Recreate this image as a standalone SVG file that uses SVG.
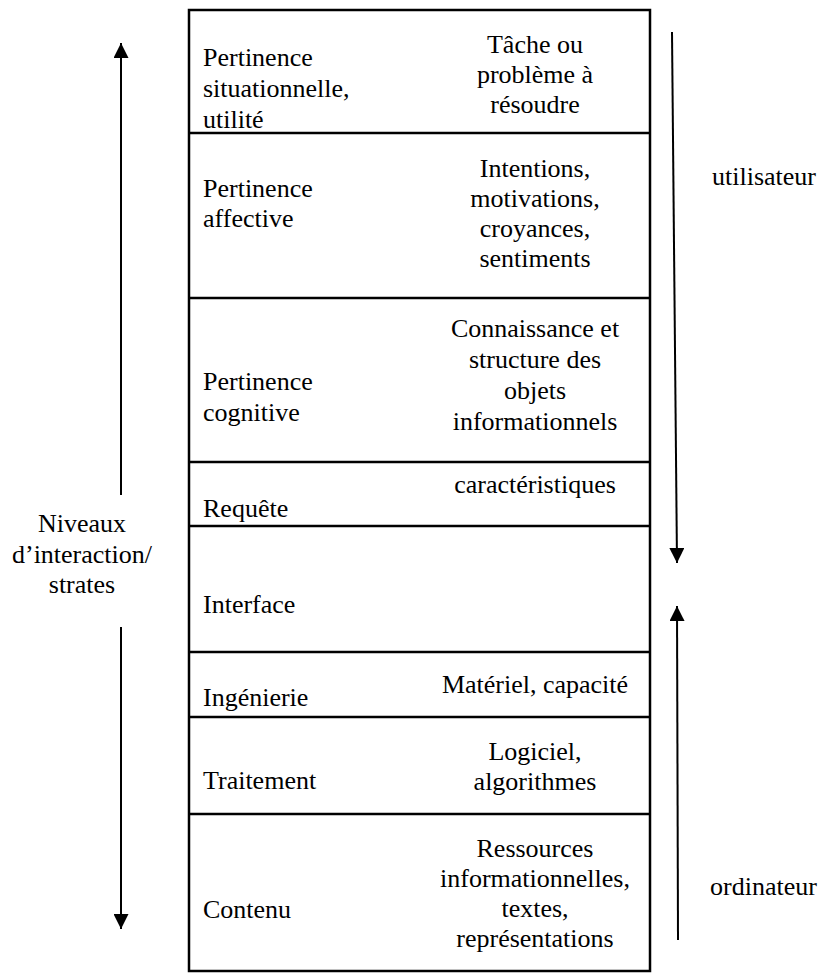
<svg xmlns="http://www.w3.org/2000/svg" width="823" height="974" viewBox="0 0 823 974">
<style>
text{font-family:'Liberation Serif','Times New Roman','DejaVu Serif',serif;font-size:26px;fill:#000}
.c{text-anchor:middle}
.grid{stroke:#000;stroke-width:2.5;fill:none}
.arr{stroke:#000;stroke-width:2;fill:none}
</style>
<defs>
<marker id="ah" viewBox="0 0 10 10" refX="10" refY="5" markerWidth="15" markerHeight="15" markerUnits="userSpaceOnUse" orient="auto">
<path d="M0,0 L10,5 L0,10 Z" fill="#000"/>
</marker>
</defs>
<rect width="823" height="974" fill="#fff"/>
<g id="table">
<rect class="grid" x="189" y="10" width="461" height="961"/>
<line class="grid" x1="189" y1="133" x2="650" y2="133"/>
<line class="grid" x1="189" y1="298" x2="650" y2="298"/>
<line class="grid" x1="189" y1="462" x2="650" y2="462"/>
<line class="grid" x1="189" y1="526" x2="650" y2="526"/>
<line class="grid" x1="189" y1="652" x2="650" y2="652"/>
<line class="grid" x1="189" y1="717" x2="650" y2="717"/>
<line class="grid" x1="189" y1="814" x2="650" y2="814"/>
</g>
<g font-family="Liberation Serif, Times New Roman, serif">
<g id="row1">
<text x="203" y="66">Pertinence</text>
<text x="203" y="97">situationnelle,</text>
<text x="203" y="128">utilité</text>
<text class="c" x="535" y="53">Tâche ou</text>
<text class="c" x="535" y="83">problème à</text>
<text class="c" x="535" y="113">résoudre</text>
</g>
<g id="row2">
<text x="203" y="197">Pertinence</text>
<text x="203" y="227">affective</text>
<text class="c" x="535" y="177">Intentions,</text>
<text class="c" x="535" y="207">motivations,</text>
<text class="c" x="535" y="237">croyances,</text>
<text class="c" x="535" y="267">sentiments</text>
</g>
<g id="row3">
<text x="203" y="390">Pertinence</text>
<text x="203" y="421">cognitive</text>
<text class="c" x="535" y="337">Connaissance et</text>
<text class="c" x="535" y="368">structure des</text>
<text class="c" x="535" y="399">objets</text>
<text class="c" x="535" y="430">informationnels</text>
</g>
<g id="row4">
<text x="203" y="517">Requête</text>
<text class="c" x="535" y="493">caractéristiques</text>
</g>
<g id="row5">
<text x="203" y="613">Interface</text>
</g>
<g id="row6">
<text x="203" y="706">Ingénierie</text>
<text class="c" x="535" y="693">Matériel, capacité</text>
</g>
<g id="row7">
<text x="203" y="789">Traitement</text>
<text class="c" x="535" y="760">Logiciel,</text>
<text class="c" x="535" y="790">algorithmes</text>
</g>
<g id="row8">
<text x="203" y="918">Contenu</text>
<text class="c" x="535" y="857">Ressources</text>
<text class="c" x="535" y="887">informationnelles,</text>
<text class="c" x="535" y="917">textes,</text>
<text class="c" x="535" y="947">représentations</text>
</g>
<g id="niveaux">
<text class="c" x="82" y="532">Niveaux</text>
<text class="c" x="82" y="563">d’interaction/</text>
<text class="c" x="82" y="593">strates</text>
</g>
<g id="utilisateur">
<text x="712" y="185">utilisateur</text>
</g>
<g id="ordinateur">
<text x="710" y="895">ordinateur</text>
</g>
</g>
<g id="connectors">
<line class="arr" x1="121" y1="495" x2="121" y2="43" marker-end="url(#ah)"/>
<line class="arr" x1="121" y1="627" x2="121" y2="929" marker-end="url(#ah)"/>
<line class="arr" x1="672" y1="32" x2="677" y2="563" marker-end="url(#ah)"/>
<line class="arr" x1="678" y1="940" x2="677" y2="606" marker-end="url(#ah)"/>
</g>
</svg>
